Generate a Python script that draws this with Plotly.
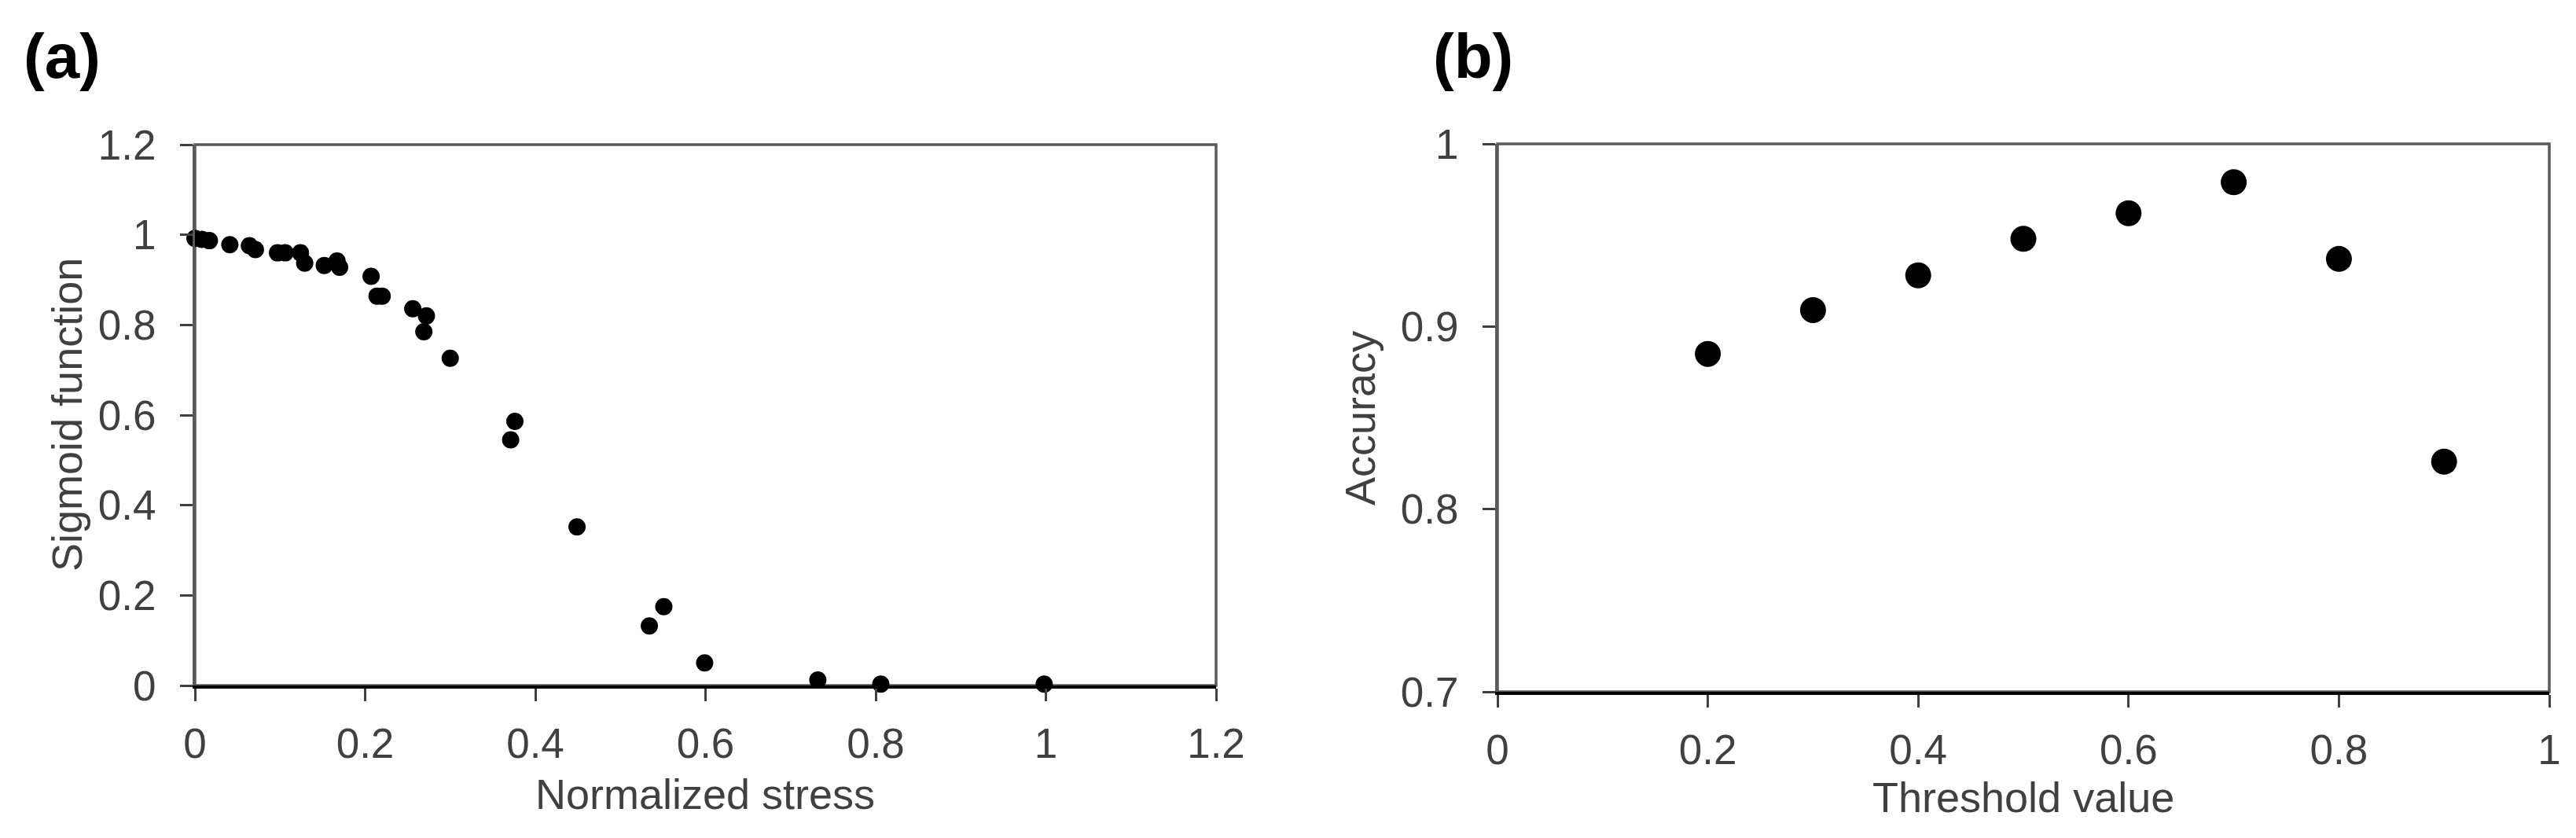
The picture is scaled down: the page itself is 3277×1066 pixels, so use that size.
import plotly.graph_objects as go

# panel (a): sigmoid function vs normalized stress
stress = [0.000, 0.008, 0.017, 0.041, 0.064, 0.071, 0.097, 0.106, 0.124, 0.129,
          0.152, 0.167, 0.170, 0.207, 0.214, 0.220, 0.256, 0.272, 0.269, 0.300,
          0.371, 0.376, 0.449, 0.534, 0.551, 0.599, 0.732, 0.806, 0.998]
sigmoid = [0.992, 0.990, 0.987, 0.978, 0.976, 0.967, 0.960, 0.960, 0.960, 0.937,
           0.932, 0.942, 0.928, 0.908, 0.864, 0.864, 0.836, 0.820, 0.785, 0.726,
           0.545, 0.586, 0.352, 0.132, 0.175, 0.050, 0.012, 0.003, 0.003]

# panel (b): accuracy vs threshold value
threshold = [0.2, 0.3, 0.4, 0.5, 0.6, 0.7, 0.8, 0.9]
accuracy = [0.885, 0.909, 0.928, 0.948, 0.962, 0.979, 0.937, 0.826]

W, H = 3277, 1066
OFF = 8  # default page margin around the plot div
FONT = "Arial, Liberation Sans, sans-serif"
TXT = "#404040"
BOX = "#595959"

fig = go.Figure()
fig.add_trace(go.Scatter(x=stress, y=sigmoid, mode="markers", xaxis="x", yaxis="y",
                         marker=dict(color="black", size=22), cliponaxis=False))
fig.add_trace(go.Scatter(x=threshold, y=accuracy, mode="markers", xaxis="x2", yaxis="y2",
                         marker=dict(color="black", size=33), cliponaxis=False))


def px_x(p):
    return (p - OFF) / W


def px_y(p):
    return 1 - (p - OFF) / H


tick_common = dict(ticks="outside", ticklen=16, tickwidth=3, tickcolor=TXT,
                   showgrid=False, zeroline=False, showline=True, automargin=False,
                   tickfont=dict(family=FONT, size=53, color=TXT))

fig.update_layout(
    width=W, height=H,
    margin=dict(l=0, r=0, t=0, b=0, autoexpand=False),
    paper_bgcolor="white", plot_bgcolor="white",
    showlegend=False,
    xaxis=dict(domain=[px_x(248), px_x(1547)], range=[0, 1.2], dtick=0.2, tick0=0,
               linecolor="black", linewidth=4, anchor="y", ticklabelstandoff=8, **tick_common),
    yaxis=dict(domain=[px_y(872), px_y(184)], range=[0, 1.2], dtick=0.2, tick0=0,
               linecolor=BOX, linewidth=3, anchor="x", ticklabelstandoff=20, **tick_common),
    xaxis2=dict(domain=[px_x(1905), px_x(3243)], range=[0, 1], dtick=0.2, tick0=0,
                linecolor="black", linewidth=4, anchor="y2", ticklabelstandoff=8, **tick_common),
    yaxis2=dict(domain=[px_y(880), px_y(183)], range=[0.7, 1], dtick=0.1, tick0=0.7,
                linecolor=BOX, linewidth=3, anchor="x2", ticklabelstandoff=20, **tick_common),
)

# plot area borders (top and right edges)
for xr, yr in [("x domain", "y domain"), ("x2 domain", "y2 domain")]:
    fig.add_shape(type="rect", xref=xr, yref=yr, x0=0, x1=1, y0=0, y1=1,
                  line=dict(color=BOX, width=3.5), layer="below")

title_font = dict(family=FONT, size=54, color=TXT)
annotations = [
    dict(text="<b>(a)</b>", x=px_x(28), y=px_y(71), xanchor="left", yanchor="middle",
         font=dict(family=FONT, size=80, color="black")),
    dict(text="<b>(b)</b>", x=px_x(1821), y=px_y(71), xanchor="left", yanchor="middle",
         font=dict(family=FONT, size=80, color="black")),
    dict(text="Normalized stress", x=px_x(897), y=px_y(1010), xanchor="center",
         yanchor="middle", font=title_font),
    dict(text="Threshold value", x=px_x(2574), y=px_y(1014), xanchor="center",
         yanchor="middle", font=title_font),
    dict(text="Sigmoid function", x=px_x(85), y=px_y(528), xanchor="center",
         yanchor="middle", textangle=-90, font=title_font),
    dict(text="Accuracy", x=px_x(1730), y=px_y(532), xanchor="center",
         yanchor="middle", textangle=-90, font=title_font),
]
for a in annotations:
    fig.add_annotation(xref="paper", yref="paper", showarrow=False, **a)

fig.write_html("out.html")
